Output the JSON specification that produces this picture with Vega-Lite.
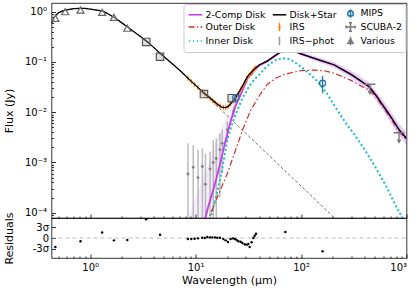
{
"$schema":"https://vega.github.io/schema/vega-lite/v6.json",
"background":"white",
"padding":{"left":2.5,"top":2,"right":0,"bottom":0},
"spacing":0,
"bounds":"flush",
"config":{
 "font":"DejaVu Sans",
 "view":{"stroke":"#000000","strokeWidth":0.8},
 "axis":{"labelFont":"DejaVu Sans","titleFont":"DejaVu Sans","labelFontSize":10,"titleFontSize":11,"titleFontWeight":"normal","grid":false,"domain":false,"tickColor":"#000000","tickWidth":0.8,"labelColor":"#000000","titleColor":"#000000"},
 "legend":{"orient":"top-right","offset":1,"padding":3,"columns":3,"gridAlign":"each","columnPadding":4,"rowPadding":-3,"symbolSize":100,"symbolStrokeWidth":1.5,"symbolOffset":3,"labelOffset":4,"labelFontSize":9.4,"labelFont":"DejaVu Sans","labelColor":"#000000","strokeColor":"#cccccc","fillColor":"#ffffff","cornerRadius":2,"symbolOpacity":1}
},
"datasets":{
 "black":[{"w":0.43,"f":0.59},{"w":0.46,"f":0.8},{"w":0.5,"f":0.95},{"w":0.55,"f":1.04},{"w":0.6,"f":1.09},{"w":0.7,"f":1.15},{"w":0.8,"f":1.17},{"w":0.9,"f":1.16},{"w":1.0,"f":1.13},{"w":1.2,"f":1.06},{"w":1.35,"f":1.0},{"w":1.5,"f":0.89},{"w":1.74,"f":0.74},{"w":2.0,"f":0.6},{"w":2.25,"f":0.5},{"w":2.6,"f":0.4},{"w":3.0,"f":0.32},{"w":3.5,"f":0.25},{"w":4.0,"f":0.195},{"w":4.8,"f":0.138},{"w":6.0,"f":0.092},{"w":7.2,"f":0.066},{"w":9.0,"f":0.042},{"w":11.2,"f":0.0275},{"w":12,"f":0.024},{"w":14,"f":0.0185},{"w":16,"f":0.0145},{"w":17.5,"f":0.0128},{"w":18.6,"f":0.0123},{"w":19.5,"f":0.0125},{"w":20.5,"f":0.0132},{"w":22.5,"f":0.0165},{"w":24.9,"f":0.0221},{"w":28,"f":0.034},{"w":31,"f":0.051},{"w":35,"f":0.068},{"w":40,"f":0.087},{"w":48,"f":0.105},{"w":55,"f":0.128},{"w":62,"f":0.152},{"w":68,"f":0.168},{"w":75,"f":0.176},{"w":85,"f":0.168},{"w":100,"f":0.145},{"w":143,"f":0.112},{"w":207,"f":0.087},{"w":300,"f":0.056},{"w":443,"f":0.032},{"w":520,"f":0.021},{"w":600,"f":0.0135},{"w":700,"f":0.0085},{"w":850,"f":0.0045},{"w":1000,"f":0.003}],
 "star":[{"w":0.43,"f":0.59},{"w":0.46,"f":0.8},{"w":0.5,"f":0.95},{"w":0.55,"f":1.04},{"w":0.6,"f":1.09},{"w":0.7,"f":1.15},{"w":0.8,"f":1.17},{"w":0.9,"f":1.16},{"w":1.0,"f":1.13},{"w":1.2,"f":1.06},{"w":1.35,"f":1.0},{"w":1.5,"f":0.89},{"w":1.74,"f":0.74},{"w":2.0,"f":0.6},{"w":2.25,"f":0.5},{"w":2.6,"f":0.4},{"w":3.0,"f":0.32},{"w":3.5,"f":0.25},{"w":4.0,"f":0.195},{"w":4.8,"f":0.138},{"w":6,"f":0.094},{"w":7,"f":0.069},{"w":8,"f":0.053},{"w":10,"f":0.034},{"w":12,"f":0.0236},{"w":15,"f":0.0151},{"w":20,"f":0.0085},{"w":30,"f":0.00378},{"w":50,"f":0.00136},{"w":80,"f":0.00053},{"w":120,"f":0.000236},{"w":160,"f":0.000133},{"w":200,"f":0.000085},{"w":240,"f":0.000059}],
 "disk":[{"w":12.0,"f":0.00005},{"w":12.4,"f":0.000079},{"w":13,"f":0.00012},{"w":14,"f":0.0002},{"w":15,"f":0.00033},{"w":16,"f":0.00055},{"w":17,"f":0.0009},{"w":18,"f":0.0015},{"w":19.3,"f":0.0028},{"w":21,"f":0.0055},{"w":23.1,"f":0.011},{"w":25,"f":0.0165},{"w":27.8,"f":0.027},{"w":31,"f":0.047},{"w":35,"f":0.065},{"w":40,"f":0.085},{"w":48,"f":0.103},{"w":55,"f":0.126},{"w":62,"f":0.151},{"w":68,"f":0.167},{"w":75,"f":0.175},{"w":85,"f":0.167},{"w":100,"f":0.145},{"w":143,"f":0.112},{"w":207,"f":0.087},{"w":300,"f":0.056},{"w":443,"f":0.032},{"w":520,"f":0.021},{"w":600,"f":0.0135},{"w":700,"f":0.0085},{"w":850,"f":0.0045},{"w":1000,"f":0.003}],
 "outer":[{"w":13.0,"f":0.00006},{"w":13.4,"f":0.00008},{"w":16,"f":0.0002},{"w":20,"f":0.0006},{"w":24,"f":0.0018},{"w":28,"f":0.0045},{"w":33,"f":0.0105},{"w":40,"f":0.021},{"w":48,"f":0.036},{"w":58,"f":0.048},{"w":69,"f":0.056},{"w":85,"f":0.063},{"w":100,"f":0.067},{"w":133,"f":0.069},{"w":170,"f":0.066},{"w":210,"f":0.059},{"w":298,"f":0.043},{"w":395,"f":0.031},{"w":450,"f":0.027},{"w":520,"f":0.0195},{"w":600,"f":0.0125},{"w":700,"f":0.0078},{"w":850,"f":0.0041},{"w":1000,"f":0.0028}],
 "inner":[{"w":13.5,"f":0.00006},{"w":13.9,"f":0.000079},{"w":16,"f":0.00025},{"w":18,"f":0.0008},{"w":20,"f":0.0028},{"w":22,"f":0.0055},{"w":24,"f":0.009},{"w":27.8,"f":0.019},{"w":32,"f":0.032},{"w":35.8,"f":0.044},{"w":41.5,"f":0.06},{"w":46,"f":0.077},{"w":51.5,"f":0.094},{"w":58,"f":0.11},{"w":66.6,"f":0.119},{"w":75,"f":0.116},{"w":85,"f":0.103},{"w":100,"f":0.08},{"w":123,"f":0.056},{"w":143,"f":0.041},{"w":175,"f":0.024},{"w":207,"f":0.0135},{"w":260,"f":0.0065},{"w":320,"f":0.0036},{"w":395,"f":0.0019},{"w":500,"f":0.00085},{"w":650,"f":0.00032},{"w":800,"f":0.00013},{"w":918,"f":0.000079},{"w":960,"f":0.00006}],
 "fan":[{"w":8.4,"lo":0.00005,"hi":0.00008},{"w":10,"lo":0.00005,"hi":0.0002},{"w":12,"lo":0.00005,"hi":0.00055},{"w":14,"lo":0.00015,"hi":0.0013},{"w":15.5,"lo":0.0003,"hi":0.0026},{"w":18,"lo":0.0013,"hi":0.0055},{"w":19.3,"lo":0.0024,"hi":0.0075},{"w":21,"lo":0.0048,"hi":0.0105},{"w":23.1,"lo":0.0098,"hi":0.0145}],
 "band":[{"w":23.1,"lo":0.0098,"hi":0.0145},{"w":25,"lo":0.0145,"hi":0.019},{"w":27.8,"lo":0.024,"hi":0.03},{"w":31,"lo":0.043,"hi":0.05},{"w":35,"lo":0.06,"hi":0.069},{"w":40,"lo":0.079,"hi":0.09},{"w":48,"lo":0.097,"hi":0.109},{"w":55,"lo":0.12,"hi":0.133},{"w":62,"lo":0.144,"hi":0.159},{"w":68,"lo":0.159,"hi":0.176},{"w":75,"lo":0.166,"hi":0.185},{"w":85,"lo":0.157,"hi":0.179},{"w":100,"lo":0.134,"hi":0.158},{"w":143,"lo":0.101,"hi":0.125},{"w":207,"lo":0.077,"hi":0.099},{"w":300,"lo":0.048,"hi":0.066},{"w":443,"lo":0.026,"hi":0.039},{"w":600,"lo":0.0107,"hi":0.0172},{"w":850,"lo":0.0034,"hi":0.0059},{"w":1000,"lo":0.0022,"hi":0.004}],
 "irs":[{"w":8.45,"f":0.0478,"lo":0.0421,"hi":0.0535},{"w":9.1,"f":0.0411,"lo":0.0362,"hi":0.046},{"w":9.78,"f":0.0357,"lo":0.0314,"hi":0.04},{"w":10.51,"f":0.031,"lo":0.0273,"hi":0.0347},{"w":11.58,"f":0.0258,"lo":0.0227,"hi":0.0289},{"w":12.25,"f":0.0232,"lo":0.0204,"hi":0.026},{"w":12.91,"f":0.0212,"lo":0.0187,"hi":0.0237},{"w":13.67,"f":0.0193,"lo":0.017,"hi":0.0216},{"w":14.41,"f":0.0175,"lo":0.0154,"hi":0.0196},{"w":15.25,"f":0.0158,"lo":0.0139,"hi":0.0177},{"w":16.07,"f":0.0144,"lo":0.0127,"hi":0.0161},{"w":17.01,"f":0.0135,"lo":0.0119,"hi":0.0151},{"w":18.33,"f":0.0125,"lo":0.011,"hi":0.014},{"w":19.27,"f":0.0124,"lo":0.0109,"hi":0.0139},{"w":20.27,"f":0.0128,"lo":0.0113,"hi":0.0143},{"w":21.49,"f":0.0148,"lo":0.013,"hi":0.0166},{"w":22.6,"f":0.0167,"lo":0.0147,"hi":0.0187},{"w":23.61,"f":0.0188,"lo":0.0165,"hi":0.0211},{"w":24.49,"f":0.0209,"lo":0.0184,"hi":0.0234},{"w":25.45,"f":0.0236,"lo":0.0208,"hi":0.0264},{"w":26.75,"f":0.0282,"lo":0.0248,"hi":0.0316},{"w":27.76,"f":0.0322,"lo":0.0283,"hi":0.0361},{"w":29.18,"f":0.0392,"lo":0.0345,"hi":0.0439},{"w":30.48,"f":0.0464,"lo":0.0408,"hi":0.052},{"w":31.64,"f":0.0524,"lo":0.0461,"hi":0.0587},{"w":32.57,"f":0.0556,"lo":0.0489,"hi":0.0623},{"w":34.02,"f":0.0625,"lo":0.055,"hi":0.07},{"w":35.31,"f":0.0692,"lo":0.0609,"hi":0.0775},{"w":36.31,"f":0.0735,"lo":0.0647,"hi":0.0823},{"w":37.39,"f":0.0775,"lo":0.0682,"hi":0.0868}],
 "irsphot":[{"w":8.46,"f":0.00059,"lo":0.00005,"hi":0.0024},{"w":9.5,"f":0.0008,"lo":0.00005,"hi":0.0022},{"w":10.54,"f":0.0005,"lo":0.00005,"hi":0.0018},{"w":11.6,"f":0.00083,"lo":0.00005,"hi":0.0019},{"w":12.4,"f":0.00037,"lo":0.00005,"hi":0.0015},{"w":13.7,"f":0.00074,"lo":0.00005,"hi":0.00165},{"w":14.7,"f":0.001,"lo":0.00005,"hi":0.0028},{"w":15.7,"f":0.0012,"lo":0.00005,"hi":0.003},{"w":17.0,"f":0.0018,"lo":0.0002,"hi":0.0038},{"w":17.9,"f":0.0024,"lo":0.0006,"hi":0.0045},{"w":20,"f":0.0045,"lo":0.0025,"hi":0.0065},{"w":23,"f":0.0105,"lo":0.008,"hi":0.013},{"w":26,"f":0.021,"lo":0.018,"hi":0.024},{"w":30,"f":0.041,"lo":0.037,"hi":0.045},{"w":34,"f":0.058,"lo":0.053,"hi":0.063}],
 "various":[{"w":0.468,"f":0.74,"series":"Various"},{"w":0.58,"f":1.0,"series":"Various"},{"w":0.81,"f":1.08,"series":"Various"},{"w":1.3,"f":0.97,"series":"Various"},{"w":1.68,"f":0.77,"series":"Various"},{"w":2.25,"f":0.47,"series":"Various"}],
 "wise":[{"w":3.4,"f":0.25},{"w":4.6,"f":0.127},{"w":12,"f":0.023},{"w":22,"f":0.019}],
 "mips":[{"w":24,"f":0.0195,"lo":0.0185,"hi":0.0205},{"w":71,"f":0.179,"lo":0.16,"hi":0.2},{"w":160,"f":0.0377,"lo":0.0239,"hi":0.0527}],
 "scuba":[{"w":450,"f":0.036,"lo":0.024},{"w":850,"f":0.0039,"lo":0.0026}],
 "resid":[{"w":0.468,"r":-2.45},{"w":0.81,"r":-0.92},{"w":1.3,"r":1.53},{"w":1.68,"r":-0.65},{"w":2.25,"r":-0.55},{"w":3.4,"r":5.18},{"w":4.6,"r":0.9},{"w":8.45,"r":-0.28},{"w":9.1,"r":-0.28},{"w":9.78,"r":-0.19},{"w":10.51,"r":-0.1},{"w":11.58,"r":0.08},{"w":12.25,"r":0},{"w":12.91,"r":0.26},{"w":13.67,"r":0.17},{"w":14.41,"r":0.17},{"w":15.25,"r":0.17},{"w":16.07,"r":0.08},{"w":17.01,"r":0.08},{"w":18.33,"r":-0.28},{"w":19.27,"r":-0.65},{"w":20.27,"r":-1.1},{"w":21.49,"r":-0.28},{"w":22.6,"r":-0.1},{"w":23.61,"r":-0.28},{"w":24.49,"r":-0.55},{"w":25.45,"r":-0.92},{"w":26.75,"r":-1.01},{"w":27.76,"r":-1.37},{"w":29.18,"r":-1.74},{"w":30.48,"r":-1.83},{"w":31.64,"r":-1.64},{"w":32.57,"r":-2.46},{"w":34.02,"r":-1.19},{"w":35.31,"r":0},{"w":36.31,"r":0.63},{"w":37.39,"r":1.17},{"w":71,"r":1.64},{"w":160,"r":-3.65}]
},
"resolve":{"scale":{"color":"independent","shape":"independent"},"legend":{"color":"independent","shape":"independent"}},
"vconcat":[
 {
  "width":355,"height":215,
  "resolve":{"axis":{"x":"independent","y":"independent"}},
  "layer":[
   {"data":{"name":"fan"},"mark":{"type":"area","color":"#b070d8","opacity":0.13,"clip":true},
    "encoding":{"x":{"field":"w","type":"quantitative","scale":{"type":"log","domain":[0.43,1000],"nice":false},"axis":null},
                "y":{"field":"lo","type":"quantitative","scale":{"type":"log","domain":[0.0000785,1.49],"nice":false},"axis":null},"y2":{"field":"hi"}}},
   {"data":{"name":"irsphot"},"mark":{"type":"rule","color":"#a0a0a0","strokeWidth":1.5,"opacity":0.7,"clip":true},
    "encoding":{"x":{"field":"w","type":"quantitative","axis":null},"y":{"field":"lo","type":"quantitative","axis":null},"y2":{"field":"hi"}}},
   {"data":{"name":"irsphot"},"mark":{"type":"point","filled":true,"color":"#808080","size":8,"opacity":1,"clip":true},
    "encoding":{"x":{"field":"w","type":"quantitative","axis":null},"y":{"field":"f","type":"quantitative","axis":null}}},
   {"data":{"name":"band"},"mark":{"type":"area","color":"#a865cc","opacity":0.3,"clip":true},
    "encoding":{"x":{"field":"w","type":"quantitative","axis":null},"y":{"field":"lo","type":"quantitative","axis":null},"y2":{"field":"hi"}}},
   {"data":{"name":"star"},"mark":{"type":"line","color":"#333333","strokeWidth":0.7,"strokeDash":[3,2],"clip":true},
    "encoding":{"x":{"field":"w","type":"quantitative","axis":{"orient":"bottom","values":[0.5,0.6,0.7,0.8,0.9,2,3,4,5,6,7,8,9,20,30,40,50,60,70,80,90,200,300,400,500,600,700,800,900],"labels":false,"tickSize":-2,"title":null}},
                "y":{"field":"f","type":"quantitative","axis":{"orient":"left","values":[0.00008,0.00009,0.0002,0.0003,0.0004,0.0005,0.0006,0.0007,0.0008,0.0009,0.002,0.003,0.004,0.005,0.006,0.007,0.008,0.009,0.02,0.03,0.04,0.05,0.06,0.07,0.08,0.09,0.2,0.3,0.4,0.5,0.6,0.7,0.8,0.9],"labels":false,"tickSize":-2,"title":null}}}},
   {"data":{"name":"inner"},"mark":{"type":"line","color":"#17becf","strokeWidth":2,"strokeDash":[2,2.4],"clip":true},
    "encoding":{"x":{"field":"w","type":"quantitative","axis":null},"y":{"field":"f","type":"quantitative","axis":null}}},
   {"data":{"name":"outer"},"mark":{"type":"line","color":"#d62728","strokeWidth":1.2,"strokeDash":[6,2.5,1.5,2.5],"clip":true},
    "encoding":{"x":{"field":"w","type":"quantitative","axis":null},"y":{"field":"f","type":"quantitative","axis":null}}},
   {"data":{"name":"disk"},"mark":{"type":"line","color":"#c33de8","strokeWidth":1.8,"clip":true},
    "encoding":{"x":{"field":"w","type":"quantitative","axis":null},"y":{"field":"f","type":"quantitative","axis":null}}},
   {"data":{"name":"irs"},"mark":{"type":"rule","color":"#ff7f0e","strokeWidth":1,"clip":true},
    "encoding":{"x":{"field":"w","type":"quantitative","axis":null},"y":{"field":"lo","type":"quantitative","axis":null},"y2":{"field":"hi"}}},
   {"data":{"name":"irs"},"mark":{"type":"point","filled":true,"color":"#ff7f0e","size":5,"opacity":1,"clip":true},
    "encoding":{"x":{"field":"w","type":"quantitative","axis":null},"y":{"field":"f","type":"quantitative","axis":null}}},
   {"data":{"name":"black"},"mark":{"type":"line","color":"#000000","strokeWidth":1.3,"clip":true},
    "encoding":{"x":{"field":"w","type":"quantitative","axis":{"orient":"bottom","values":[1,10,100,1000],"labels":false,"tickSize":-4,"title":null}},
                "y":{"field":"f","type":"quantitative","axis":{"orient":"left","values":[0.0001,0.001,0.01,0.1,1],"tickSize":-4,"labelPadding":9,"labelExpr":"datum.value >= 0.5 ? '10⁰' : datum.value >= 0.05 ? '10⁻¹' : datum.value >= 0.005 ? '10⁻²' : datum.value >= 0.0005 ? '10⁻³' : '10⁻⁴'","title":"Flux (Jy)","minExtent":32,"maxExtent":32,"titlePadding":5.5}}}},
   {"data":{"name":"wise"},"mark":{"type":"point","shape":"square","size":55,"stroke":"#555555","strokeWidth":1.2,"fill":"#999999","fillOpacity":0.3,"opacity":1,"clip":true},
    "encoding":{"x":{"field":"w","type":"quantitative","axis":null},"y":{"field":"f","type":"quantitative","axis":null}}},
   {"data":{"name":"various"},"mark":{"type":"point","shape":"triangle-up","size":50,"stroke":"#666666","strokeWidth":1.2,"fill":"#ffffff","fillOpacity":0.4,"opacity":1,"clip":true},
    "encoding":{"x":{"field":"w","type":"quantitative","axis":null},"y":{"field":"f","type":"quantitative","axis":null}}},
   {"data":{"name":"mips"},"mark":{"type":"rule","color":"#1f77b4","strokeWidth":1.3,"clip":true},
    "encoding":{"x":{"field":"w","type":"quantitative","axis":null},"y":{"field":"lo","type":"quantitative","axis":null},"y2":{"field":"hi"}}},
   {"data":{"name":"mips"},"mark":{"type":"point","shape":"circle","size":36,"color":"#1f77b4","filled":false,"strokeWidth":1.3,"opacity":1,"clip":true},
    "encoding":{"x":{"field":"w","type":"quantitative","axis":null},"y":{"field":"f","type":"quantitative","axis":null}}},
   {"data":{"name":"scuba"},"mark":{"type":"rule","color":"#777777","strokeWidth":1.3,"clip":true},
    "encoding":{"x":{"field":"w","type":"quantitative","axis":null},"y":{"field":"f","type":"quantitative","axis":null},"y2":{"field":"lo"}}},
   {"data":{"name":"scuba"},"mark":{"type":"point","shape":"M-1,0L1,0","size":121,"color":"#777777","filled":false,"strokeWidth":1.5,"opacity":1,"clip":true},
    "encoding":{"x":{"field":"w","type":"quantitative","axis":null},"y":{"field":"f","type":"quantitative","axis":null}}},
   {"data":{"name":"scuba"},"mark":{"type":"point","shape":"triangle-down","size":22,"color":"#777777","filled":true,"opacity":1,"clip":true},
    "encoding":{"x":{"field":"w","type":"quantitative","axis":null},"y":{"field":"lo","type":"quantitative","axis":null}}},
   {"data":{"name":"various"},"mark":{"type":"point","filled":false,"opacity":0,"clip":true},
    "encoding":{"x":{"field":"w","type":"quantitative","axis":null},"y":{"field":"f","type":"quantitative","axis":null},
     "color":{"field":"series","type":"nominal","scale":{"domain":["2-Comp Disk","Outer Disk","Inner Disk","Disk+Star","IRS","IRS−phot","MIPS","SCUBA-2","Various"],"range":["#c33de8","#d62728","#17becf","#000000","#ff7f0e","#999999","#1f77b4","#777777","#777777"]},"legend":{"title":null}},
     "shape":{"field":"series","type":"nominal","scale":{"domain":["2-Comp Disk","Outer Disk","Inner Disk","Disk+Star","IRS","IRS−phot","MIPS","SCUBA-2","Various"],"range":["M-1.35,0L1.35,0","M-1.35,0L-0.2,0M0.3,0L0.5,0M1.0,0L1.35,0","M-1.35,0L-1.07,0M-0.55,0L-0.27,0M0.25,0L0.53,0M1.05,0L1.33,0","M-1.35,0L1.35,0","M0,-0.85L0,0.85M-0.25,0L0.25,0","M0,-0.85L0,0.85M-0.15,0L0.15,0","M-0.55,0A0.55,0.55 0 1 1 0.55,0A0.55,0.55 0 1 1 -0.55,0M0,-0.85L0,0.85","M-0.9,0L0.9,0M0,-0.85L0,0.85M-0.9,-0.3L-0.9,0.3M0.9,-0.3L0.9,0.3M-0.3,-0.85L0.3,-0.85M-0.3,0.85L0.3,0.85","M0,-0.85L0,0.85M-0.5,0.45L0,-0.45L0.5,0.45Z"]},"legend":{"title":null}}}}
  ]
 },
 {
  "width":355,"height":40,
  "resolve":{"axis":{"x":"independent","y":"independent"}},
  "layer":[
   {"data":{"values":[{}]},"mark":{"type":"rule","color":"#aaaaaa","strokeDash":[4,3],"strokeWidth":0.8},
    "encoding":{"x":{"datum":0.43,"type":"quantitative","scale":{"type":"log","domain":[0.43,1000],"nice":false},"axis":{"orient":"bottom","values":[0.5,0.6,0.7,0.8,0.9,2,3,4,5,6,7,8,9,20,30,40,50,60,70,80,90,200,300,400,500,600,700,800,900],"labels":false,"tickSize":-2,"title":null}},
                "x2":{"datum":1000},
                "y":{"datum":0,"type":"quantitative","scale":{"domain":[-5.5,5.5],"nice":false,"zero":false},"axis":null}}},
   {"data":{"name":"resid"},"mark":{"type":"point","filled":true,"color":"#000000","size":6,"opacity":1,"clip":true},
    "encoding":{"x":{"field":"w","type":"quantitative","axis":{"orient":"bottom","values":[1,10,100,1000],"tickSize":-4,"labelPadding":8,"labelExpr":"datum.value < 5 ? '10⁰' : datum.value < 50 ? '10¹' : datum.value < 500 ? '10²' : '10³'","title":"Wavelength (µm)","titlePadding":2}},
                "y":{"field":"r","type":"quantitative","axis":{"orient":"left","values":[-3,0,3],"tickSize":-4,"labelPadding":7,"labelExpr":"datum.value > 0 ? '3σ' : datum.value < 0 ? '-3σ' : '0'","title":"Residuals","minExtent":32,"maxExtent":32,"titlePadding":5.5}}}}
  ]
 }
]
}
